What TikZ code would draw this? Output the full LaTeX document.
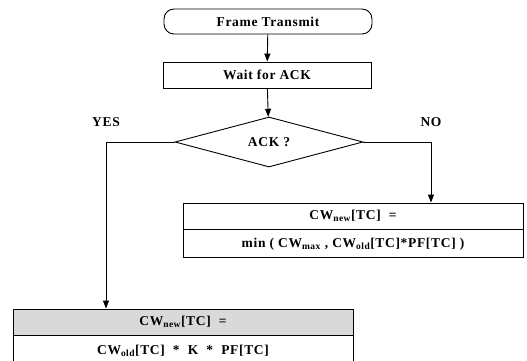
\documentclass[tikz,border=0pt]{standalone}
\usepackage{fontspec}
\setmainfont{Liberation Serif}[LetterSpace=5]
\usepackage{tikz}
\usetikzlibrary{arrows.meta}
\usetikzlibrary{positioning}
\usetikzlibrary{shapes.geometric}
\newcommand{\cw}[1]{CW\textsubscript{#1}}
\newcommand{\widthbox}{208pt}
\newcommand{\widthrow}{340pt}
\tikzset{
    common/.style={draw, line width=0.9pt, font=\bfseries\fontsize{13.5}{15}\selectfont},
    terminal/.style={common, rectangle, rounded corners=10pt, minimum width=\widthbox, minimum height=25pt},
    process/.style={common, rectangle, minimum width=\widthbox, minimum height=26pt},
    decision/.style={common, diamond, aspect=3.7, inner sep=0pt, minimum width=188pt, minimum height=50pt},
    row/.style={common, rectangle, minimum width=\widthrow, minimum height=26pt, inner sep=0pt},
    answer/.style={font=\bfseries\fontsize{13.5}{15}\selectfont},
    flow/.style={-{Triangle[length=8pt,width=6pt]}, line width=0.9pt},
}

\begin{document}
\begin{tikzpicture}[x=1pt, y=-1pt]
    \useasboundingbox (0,0) rectangle (527,361);
    \path
        node[terminal] (start) at (268,21.5) {Frame Transmit}
        node[process] (wait) at (267,75) {Wait for ACK}
        node[decision] (ack) at (269,142) {ACK ?};
    \node[answer] (yes) at (106,122) {YES};
    \node[answer] (no) at (431,122) {NO};

    % window grows after a missing ACK
    \node[row] (nonew) at (353,216) {\cw{new}[TC]~~=};
    \node[row, minimum height=28pt, below=0pt of nonew] (noval) {min ( \cw{max} , \cw{old}[TC]*PF[TC] )};
    % window after a received ACK
    \node[row, fill=black!15] (yesnew) at (183,322) {\cw{new}[TC]~~=};
    \node[row, minimum height=30pt, below=0pt of yesnew] (yesval) {\cw{old}[TC]~~*~~K~~*~~PF[TC]};

    \draw[flow] (start) -- (wait);
    \draw[flow] (wait) -- (ack);
    \draw[flow] (ack.west) -| (yes.south |- yesnew.north);
    \draw[flow] (ack.east) -| (no.south |- nonew.north);
\end{tikzpicture}
\end{document}
